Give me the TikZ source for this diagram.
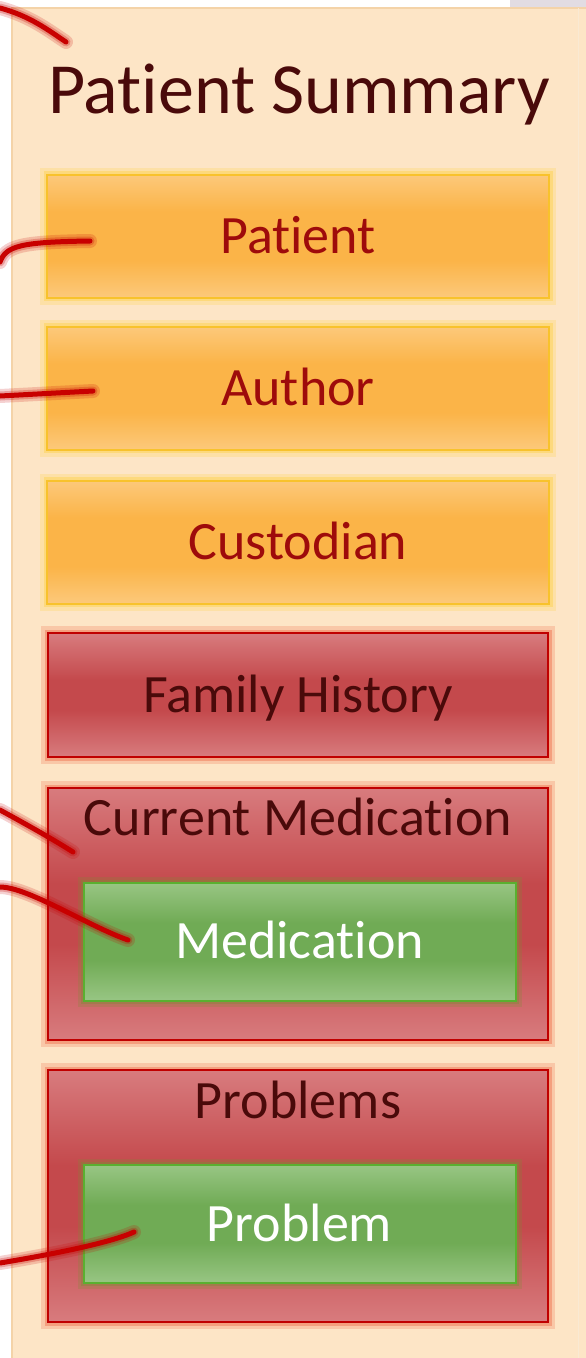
\documentclass[tikz,border=0pt]{standalone}
\usepackage{fontspec}
\setmainfont{Carlito}[RawFeature={-liga;-clig;-calt;-dlig}]
\definecolor{panel}{HTML}{FDE5C6}
\definecolor{panelB}{HTML}{F4D3A8}
\definecolor{topgrey}{HTML}{E2DCE2}
\definecolor{oL}{HTML}{FDE0B4}
\definecolor{oM}{HTML}{FBB448}
\definecolor{oB}{HTML}{F8C22C}
\definecolor{oG}{HTML}{FFD24A}
\definecolor{oT}{HTML}{9E0B0B}
\definecolor{rL}{HTML}{ECAEB0}
\definecolor{rM}{HTML}{C4494C}
\definecolor{rB}{HTML}{C00000}
\definecolor{rG}{HTML}{F0704E}
\definecolor{rT}{HTML}{4A0A0A}
\definecolor{gL}{HTML}{C0E0B2}
\definecolor{gM}{HTML}{70AB55}
\definecolor{gB}{HTML}{5AB030}
\definecolor{gG}{HTML}{7E8C36}
\definecolor{cR}{HTML}{C80000}
\pgfdeclareverticalshading{oshade}{100bp}{color(0bp)=(oL); color(8bp)=(oL); color(40bp)=(oM); color(60bp)=(oM); color(92bp)=(oL); color(100bp)=(oL)}
\pgfdeclareverticalshading{rshade}{100bp}{color(0bp)=(rL); color(6bp)=(rL); color(44bp)=(rM); color(56bp)=(rM); color(94bp)=(rL); color(100bp)=(rL)}
\pgfdeclareverticalshading{gshade}{100bp}{color(0bp)=(gL); color(8bp)=(gL); color(42bp)=(gM); color(58bp)=(gM); color(92bp)=(gL); color(100bp)=(gL)}
\tikzset{
  boxbase/.style={rectangle, inner sep=0pt, line width=2pt, font=\fontsize{54}{54}\selectfont,
    text height=34pt, text depth=0pt},
  obox/.style={boxbase, draw=oB, shading=oshade, text=oT, minimum width=502pt, minimum height=123pt,
    preaction={draw=oG, line width=14pt, opacity=0.25},
    preaction={draw=oG, line width=7pt, opacity=0.45}},
  rbox/.style={boxbase, draw=rB, shading=rshade, text=rT, minimum width=500pt,
    preaction={draw=rG, line width=14pt, opacity=0.25},
    preaction={draw=rG, line width=7pt, opacity=0.45}},
  gbox/.style={boxbase, draw=gB, shading=gshade, text=white, minimum width=432pt, minimum height=118pt,
    preaction={draw=gG, line width=12pt, opacity=0.25},
    preaction={draw=gG, line width=6pt, opacity=0.4}},
  rlabel/.style={inner sep=0pt, anchor=base, text=rT, font=\fontsize{54}{54}\selectfont},
  conn/.style={draw=cR, line width=5pt, line cap=round, line join=round,
    preaction={draw=cR, line width=14pt, opacity=0.18, line cap=round},
    preaction={draw=cR, line width=9pt, opacity=0.25, line cap=round}}
}
\begin{document}
\begin{tikzpicture}[x=1pt,y=-1pt]
\useasboundingbox (0,0) rectangle (586,1358);
\fill[white] (0,0) rectangle (586,1358);
\fill[topgrey] (510,0) rectangle (586,8);
\draw[panelB, fill=panel, line width=1.5pt] (12,8) rectangle (596,1368);
\draw[panelB!50, line width=1pt] (578,8) -- (578,1358);

\node[inner sep=0pt, anchor=base, text=rT, font=\fontsize{72}{72}\selectfont] (title) at (299,113) {Pat\kern0pt ient Summary};

\node[obox] (patient) at (298,236) {Pat\kern0pt ient};
\node[obox] (author) at (298,388) {Author};
\node[obox] (custodian) at (298,542) {Custodian};
\node[rbox, minimum height=124pt] (family) at (298,695) {Family History};

\node[rbox, minimum height=252pt] (curmed) at (298,914) {};
\node[rlabel] (curmedlbl) at (298,835) {Current Medicat\kern0pt ion};
\node[gbox] (medication) at (299.5,941.5) {Medicat\kern0pt ion};

\node[rbox, minimum height=252pt] (problems) at (298,1196) {};
\node[rlabel] (problemslbl) at (298,1118) {Problems};
\node[gbox] (problem) at (299.5,1224) {Problem};

\coordinate (s1) at (0,8);    \coordinate (e1) at (66,42);
\coordinate (s2) at (0,262);  \coordinate (e2) at (90,241);
\coordinate (s3) at (0,396);  \coordinate (e3) at (93,391);
\coordinate (s4) at (0,810);  \coordinate (e4) at (73,852);
\coordinate (s5) at (0,887);  \coordinate (e5) at (128,940);
\coordinate (s6) at (0,1263); \coordinate (e6) at (134,1232);

\draw[conn] (s1) .. controls +(30,8) and +(-18,-12) .. (e1);
\draw[conn] (s2) .. controls +(6,-16) and +(-70,1) .. (e2);
\draw[conn] (s3) -- (e3);
\draw[conn] (s4) .. controls +(22,12) and +(-22,-14) .. (e4);
\draw[conn] (s5) .. controls +(28,0) and +(-40,-14) .. (e5);
\draw[conn] (s6) .. controls +(60,-10) and +(-22,10) .. (e6);
\end{tikzpicture}
\end{document}
